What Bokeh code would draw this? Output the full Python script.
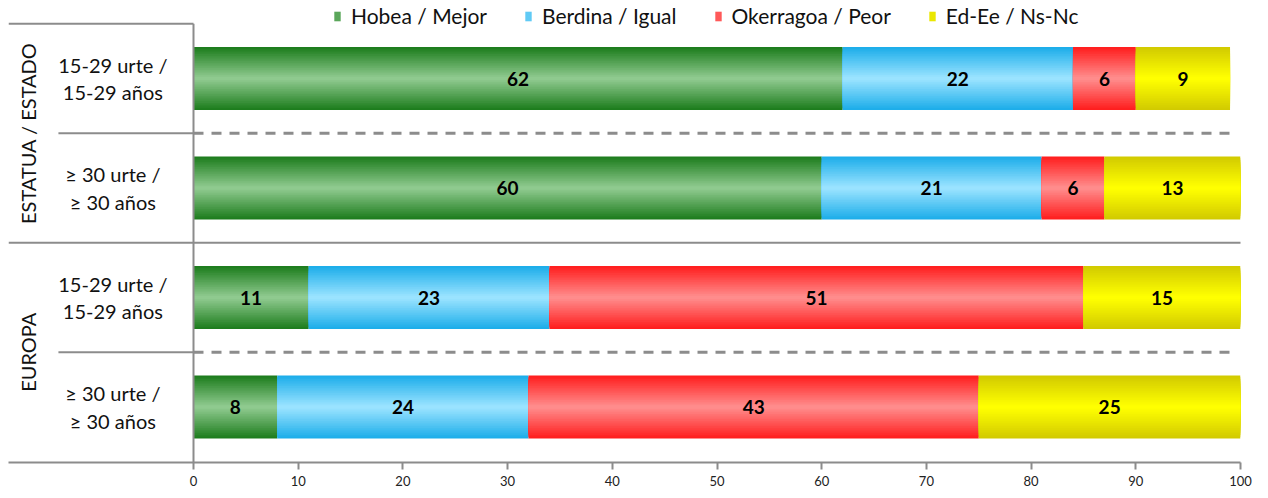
from bokeh.plotting import figure
from bokeh.models import (ColumnDataSource, Range1d, FixedTicker, Legend, LegendItem)
from bokeh.core.properties import value
from bokeh.embed import file_html
from bokeh.resources import INLINE

# ---------------- data ----------------
groups = ["ESTATUA / ESTADO", "EUROPA"]
rows = ["15-29 urte /\n15-29 años", "≥ 30 urte /\n≥ 30 años",
        "15-29 urte /\n15-29 años", "≥ 30 urte /\n≥ 30 años"]
series = ["Hobea / Mejor", "Berdina / Igual", "Okerragoa / Peor", "Ed-Ee / Ns-Nc"]
hobea = [62, 60, 11, 8]
berdina = [22, 21, 23, 24]
okerragoa = [6, 6, 51, 43]
edee = [9, 13, 15, 25]
x_ticks = [0, 10, 20, 30, 40, 50, 60, 70, 80, 90, 100]

# ---------------- styles ----------------
edge_colors = ["#1e7d1e", "#1eaeea", "#ff1f1f", "#d2cb00"]
center_colors = ["#8fca8f", "#9ae3ff", "#ff8c8c", "#ffff00"]
FONT = "Lato"
GRID = "#8c8c8c"
BAR_H = 0.575
N_LAYERS = 18

def hex2rgb(h):
    h = h.lstrip("#")
    return tuple(int(h[i:i + 2], 16) for i in (0, 2, 4))

def mix(a, b, t):
    ra, rb = hex2rgb(a), hex2rgb(b)
    return "#%02x%02x%02x" % tuple(round(ra[k] + (rb[k] - ra[k]) * t) for k in range(3))

values = [hobea, berdina, okerragoa, edee]
n_rows = len(rows)
ys = list(range(n_rows))

# px mapping: row centre spacing 109.5 px, first row centre 78 px below frame top
y_top = -78 / 109.5
y_bot = (462 - 78) / 109.5
x_left = -185 / 10.47

p = figure(width=1260, height=492, output_backend="svg", toolbar_location=None,
           x_range=Range1d(x_left, 100), y_range=Range1d(y_bot, y_top),
           y_axis_location=None, min_border_left=8, min_border_right=20,
           min_border_top=0, min_border_bottom=30)
p.outline_line_color = None
p.xgrid.visible = False
p.ygrid.visible = False
p.background_fill_color = "white"

# ---------------- stacked bars with gradient ----------------
legend_items = []
cum = [0] * n_rows
for s, vals in enumerate(values):
    left = cum[:]
    right = [cum[i] + vals[i] for i in range(n_rows)]
    cum = right
    src = ColumnDataSource(dict(y=ys, left=left, right=right,
                                mid=[(l + r) / 2 for l, r in zip(left, right)],
                                lab=[str(v) for v in vals]))
    leg_r = None
    for j in range(N_LAYERS):
        t = j / (N_LAYERS - 1)
        h = BAR_H * (1 - j / N_LAYERS)
        col = mix(edge_colors[s], center_colors[s], t)
        r = p.hbar(y="y", left="left", right="right", height=h, source=src,
                   fill_color=col, line_color=None)
        if j == N_LAYERS // 2:
            leg_r = r
    legend_items.append(LegendItem(label=series[s], renderers=[leg_r]))
    p.text(x="mid", y="y", text="lab", source=src, text_align="center",
           text_baseline="middle", text_font=value(FONT), text_font_style="bold",
           text_font_size="19px", text_color="black")

# ---------------- table lines ----------------
sep_solid_full = [-0.5, 1.5]   # between groups
sep_rows = [0.5, 2.5]          # between rows in a group
p.segment(x0=[x_left, x_left], x1=[0, 100.3], y0=sep_solid_full, y1=sep_solid_full,
          line_color=GRID, line_width=2)
p.segment(x0=[-12.9] * 2, x1=[0] * 2, y0=sep_rows, y1=sep_rows,
          line_color=GRID, line_width=2)
p.segment(x0=[0] * 2, x1=[99.6] * 2, y0=sep_rows, y1=sep_rows,
          line_color=GRID, line_width=3, line_dash="10 8")
p.segment(x0=[0], x1=[0], y0=[-0.5], y1=[y_bot], line_color=GRID, line_width=2)

# ---------------- labels ----------------
p.text(x=[-7.7] * n_rows, y=ys, text=rows, text_align="center", text_baseline="middle",
       text_font=value(FONT), text_font_size="20px", text_color="#111111",
       text_line_height=1.15)
p.text(x=[-15.85] * len(groups), y=[0.5, 2.5], text=groups, angle=1.5708,
       text_align="center", text_baseline="middle", text_font=value(FONT),
       text_font_size="20px", text_color="#111111")

# ---------------- axis ----------------
ax = p.xaxis[0]
ax.ticker = FixedTicker(ticks=x_ticks)
ax.axis_line_color = GRID
ax.axis_line_width = 2
ax.major_tick_line_color = GRID
ax.major_tick_line_width = 2
ax.major_tick_out = 7
ax.major_tick_in = 0
ax.minor_tick_line_color = None
ax.major_label_text_font = FONT
ax.major_label_text_font_size = "13px"
ax.major_label_text_color = "#222222"
ax.major_label_standoff = 6

# ---------------- legend ----------------
legend = Legend(items=legend_items, orientation="horizontal", location=(325, 434),
                glyph_width=8, glyph_height=12, label_standoff=10, spacing=37,
                label_height=22, padding=0, margin=0, border_line_color=None,
                background_fill_alpha=0, label_text_font=FONT,
                label_text_font_size="21px", label_text_color="#111111")
p.add_layout(legend)

open("out.html", "w").write(file_html(p, INLINE))
